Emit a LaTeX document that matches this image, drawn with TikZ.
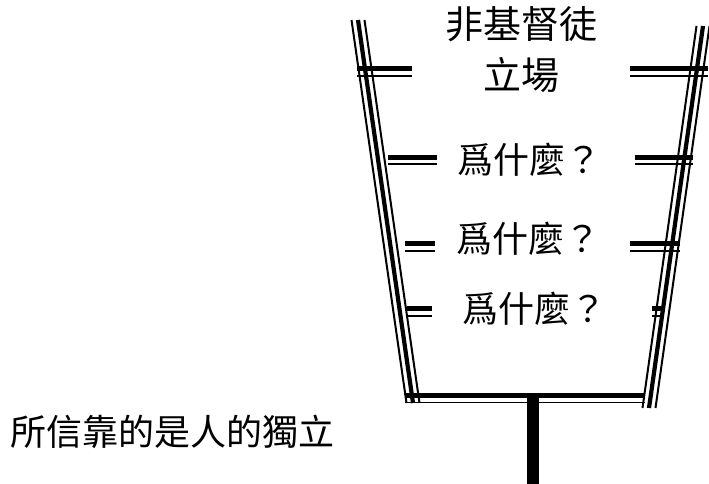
\documentclass[tikz,border=0pt]{standalone}
\usepackage{fontspec}
\newfontfamily\cjk{Noto Sans CJK TC}
\usetikzlibrary{positioning}
\tikzset{
        wall thick/.style={line width=4.2pt}, % middle strand of a cup wall
        wall thin/.style={line width=2pt},
        rung thick/.style={line width=5pt},
        rung thin/.style={line width=1.8pt},
        big text/.style={font=\cjk\fontsize{38}{42}\selectfont, inner sep=0pt},
        why text/.style={font=\cjk\fontsize{36}{40}\selectfont, inner sep=0pt},
    }

\begin{document}
\begin{tikzpicture}[x=1pt, y=-1pt]
    \useasboundingbox (0,0) rectangle (709,484);
    % cup corners
    \coordinate (lt) at (358,20);
    \coordinate (lb) at (413,403);
    \coordinate (rt) at (703,26);
    \coordinate (rb) at (649,408);
    % left wall
    \draw [wall thin] ([xshift=-6.5pt]lt) -- ([xshift=-6.5pt]lb);
    \draw [wall thick] (lt) -- (lb);
    \draw [wall thin] ([xshift=6.5pt]lt) -- ([xshift=6.5pt]lb);
    % right wall
    \draw [wall thin] ([xshift=-6.5pt]rt) -- ([xshift=-6.5pt]rb);
    \draw [wall thick] (rt) -- (rb);
    \draw [wall thin] ([xshift=6.5pt]rt) -- ([xshift=6.5pt]rb);
    % bottom and stem
    \coordinate (bl) at (405,395.5);
    \coordinate (br) at (645,395.5);
    \draw [rung thick] (bl) -- (br);
    \draw [rung thin] ([yshift=-7pt]bl) -- ([yshift=-7pt]br);
    \coordinate (stemtop) at (533,398);
    \coordinate (stembot) at (533,484);
    \draw [line width=12pt] (stemtop) -- (stembot);
    % rungs
    \draw [rung thick] (357,69) -- (412,69);
    \draw [rung thin] (357,76) -- (412,76);
    \draw [rung thick] (630,69) -- (708,69);
    \draw [rung thin] (630,76) -- (708,76);
    \draw [rung thick] (388,157) -- (437,157);
    \draw [rung thin] (388,164) -- (437,164);
    \draw [rung thick] (635,157) -- (693,157);
    \draw [rung thin] (635,164) -- (693,164);
    \draw [rung thick] (405,243) -- (435,243);
    \draw [rung thin] (405,251) -- (435,251);
    \draw [rung thick] (630,243) -- (680,243);
    \draw [rung thin] (630,251) -- (680,251);
    \draw [rung thick] (407,308) -- (432,308);
    \draw [rung thin] (407,316) -- (432,316);
    \draw [rung thick] (652,308) -- (664,308);
    \draw [rung thin] (652,316) -- (664,316);
    % texts
    \node [big text] (title1) at (521,24) {非基督徒};
    \node [big text] (title2) at (521,75) {立場};
    \node [why text] (why1) at (529,160) {爲什麼？};
    \node [why text] (why2) at (528,239) {爲什麼？};
    \node [why text] (why3) at (534,309) {爲什麼？};
    \node [why text, anchor=west] (base) at (10,432) {所信靠的是人的獨立};
\end{tikzpicture}
\end{document}
